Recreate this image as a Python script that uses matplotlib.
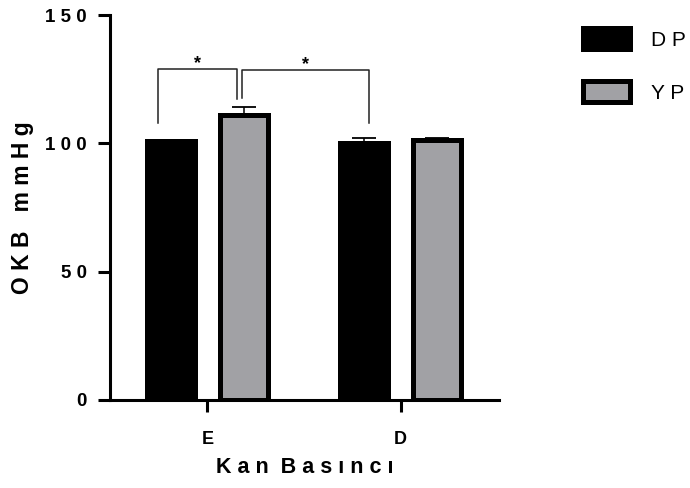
import matplotlib
matplotlib.use("Agg")
import matplotlib.pyplot as plt
import numpy as np

plt.rcParams["font.family"] = ["Liberation Sans", "DejaVu Sans"]

# mean arterial pressure, two groups per blood pressure category
categories = ["E", "D"]
groups = ["DP", "YP"]
dp_mean = [100.8, 100.3]
dp_err = [0.5, 1.8]
yp_mean = [111.2, 101.2]
yp_err = [2.8, 1.0]
y_ticks = [0, 50, 100, 150]


def spaced(text):
    # wide letter spacing like the original axis titles
    return " ".join(text)


fig = plt.figure(figsize=(6.9, 4.88), dpi=100)
ax = fig.add_axes([110 / 690, 88 / 488, 389 / 690, 385 / 488])

x = np.arange(len(categories))
width = 0.249
offset = 0.187

bars_dp = ax.bar(x - offset, dp_mean, width, color="black", edgecolor="black",
                 linewidth=3.6, zorder=2, label=spaced(groups[0]))
bars_yp = ax.bar(x + offset, yp_mean, width, color="#a1a1a5", edgecolor="black",
                 linewidth=3.6, zorder=2, label=spaced(groups[1]))

# upward-only error bars
for xs, m, e in [(x - offset, dp_mean, dp_err), (x + offset, yp_mean, yp_err)]:
    ax.errorbar(xs, m, yerr=[np.zeros(len(e)), e], fmt="none", ecolor="black",
                elinewidth=1.1, capsize=8.5, capthick=1.3, zorder=1)

# significance brackets
def bracket(x1, x2, y_top, y1, y2):
    ax.plot([x1, x1, x2, x2], [y1, y_top, y_top, y2], color="#222222",
            lw=1.1, clip_on=False)
    ax.text((x1 + x2) / 2, y_top + 2.2, "*", ha="center", va="center",
            fontsize=13, fontweight="bold")

bracket(x[0] - offset - 0.069, x[0] + offset - 0.036, 128.9, 108.0, 117.1)
bracket(x[0] + offset - 0.007, x[1] - offset + 0.024, 128.5, 117.6, 108.0)

ax.set_xlim(-0.505, 1.51)
ax.set_ylim(0, 150)
ax.set_yticks(y_ticks)
ax.set_yticklabels([spaced(str(t)) for t in y_ticks], fontsize=13.5, fontweight="bold")
ax.set_xticks(x)
ax.set_xticklabels(categories, fontsize=13, fontweight="bold")

for side in ["top", "right"]:
    ax.spines[side].set_visible(False)
for side in ["left", "bottom"]:
    ax.spines[side].set_linewidth(2.2)
ax.tick_params(axis="both", length=8.5, width=2.2, direction="out")
ax.tick_params(axis="y", pad=8)
ax.tick_params(axis="x", pad=14)

ax.set_ylabel(spaced("OKB") + "   " + spaced("mmHg"), fontsize=16.5,
              fontweight="bold", labelpad=8)
ax.set_xlabel(spaced("Kan") + "  " + spaced("Basıncı"), fontsize=15.5,
              fontweight="bold", labelpad=6)

ax.legend(handles=[bars_dp, bars_yp], loc="upper left", frameon=False,
          bbox_to_anchor=(583 / 690, 1 - 28 / 488), bbox_transform=fig.transFigure,
          borderpad=0, borderaxespad=0, fontsize=15, handlelength=2.25,
          handleheight=1.2, labelspacing=1.5, handletextpad=1.0)

fig.savefig("out.png", dpi=100)
